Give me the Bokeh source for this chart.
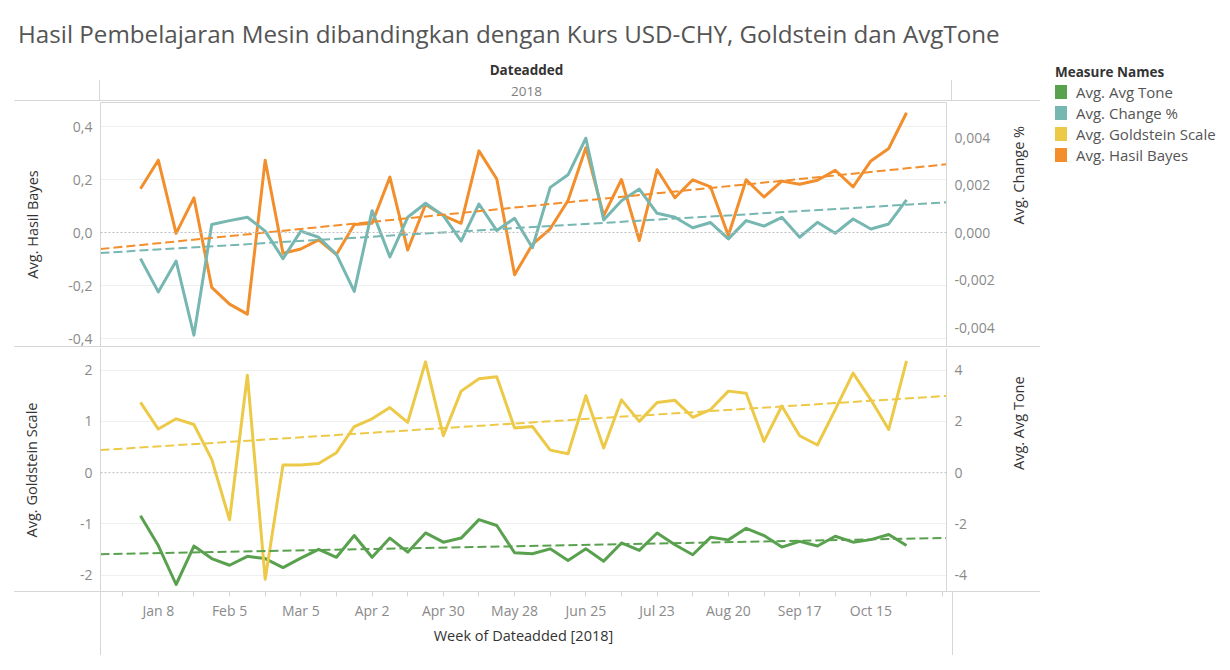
import math
import numpy as np
import pandas as pd
from bokeh.embed import file_html
from bokeh.resources import INLINE
from bokeh.layouts import column, row
from bokeh.models import (ColumnDataSource, Range1d, LinearAxis, FixedTicker, CustomJSTickFormatter,
                          Span, Div)
from bokeh.plotting import figure

FONT = "Open Sans"

# weekly averages 2018, week starting on monday
weeks = pd.date_range("2018-01-01", periods=44, freq="7D")

hasil_bayes = [0.165, 0.273, -0.003, 0.131, -0.207, -0.27, -0.308, 0.273, -0.078, -0.062, -0.028,
               -0.083, 0.03, 0.035, 0.209, -0.066, 0.106, 0.064, 0.035, 0.308, 0.202, -0.159,
               -0.045, 0.014, 0.121, 0.32, 0.064, 0.2, -0.03, 0.237, 0.131, 0.199, 0.172,
               -0.011, 0.199, 0.134, 0.194, 0.182, 0.197, 0.235, 0.172, 0.27, 0.317, 0.452]
change_pct = [-0.0011, -0.0025, -0.0012, -0.00432, 0.00034, 0.0005, 0.00064, 0.00006, -0.0011,
              0.00006, -0.0002, -0.00092, -0.00248, 0.00092, -0.00103, 0.00064, 0.00123, 0.00071,
              -0.00036, 0.0012, 0.00008, 0.0006, -0.00064, 0.0019, 0.00243, 0.00397, 0.00053,
              0.00134, 0.00183, 0.00081, 0.00064, 0.0002, 0.00042, -0.00027, 0.0005, 0.00027,
              0.00064, -0.0002, 0.00043, -0.00003, 0.00057, 0.00015, 0.00036, 0.00137]
goldstein = [1.37, 0.85, 1.05, 0.94, 0.26, -0.92, 1.90, -2.08, 0.15, 0.15, 0.18, 0.39, 0.90, 1.05,
             1.27, 0.98, 2.16, 0.72, 1.59, 1.83, 1.87, 0.87, 0.90, 0.44, 0.37, 1.50, 0.48, 1.42,
             1.00, 1.37, 1.41, 1.08, 1.23, 1.59, 1.55, 0.61, 1.30, 0.72, 0.54, 1.23, 1.94, 1.42,
             0.84, 2.18]
avg_tone = [-1.68, -2.84, -4.36, -2.86, -3.35, -3.61, -3.26, -3.35, -3.70, -3.33, -2.99, -3.30,
            -2.45, -3.30, -2.55, -3.10, -2.35, -2.71, -2.55, -1.83, -2.06, -3.12, -3.16, -2.97,
            -3.42, -2.97, -3.45, -2.74, -3.03, -2.35, -2.81, -3.20, -2.52, -2.62, -2.17, -2.45,
            -2.90, -2.68, -2.86, -2.48, -2.71, -2.61, -2.41, -2.84]

tick_labels = ["2018-01-08", "2018-02-05", "2018-03-05", "2018-04-02", "2018-04-30", "2018-05-28",
               "2018-06-25", "2018-07-23", "2018-08-20", "2018-09-17", "2018-10-15"]
minor_labels = ["2017-12-25", "2018-01-22", "2018-02-19", "2018-03-19", "2018-04-16", "2018-05-14",
                "2018-06-11", "2018-07-09", "2018-08-06", "2018-09-03", "2018-10-01", "2018-10-29",
                "2018-11-12"]

measure_names = ["Avg. Avg Tone", "Avg. Change %", "Avg. Goldstein Scale", "Avg. Hasil Bayes"]
GREEN, TEAL, YELLOW, ORANGE = "#59a14f", "#76b7b2", "#edc948", "#f28e2b"
measure_colors = [GREEN, TEAL, YELLOW, ORANGE]
LINE = "#d6d6d6"

x_lo = pd.Timestamp("2017-12-16 07:00")
x_hi = pd.Timestamp("2018-11-13 17:00")
xr = Range1d(x_lo.to_pydatetime(), x_hi.to_pydatetime())

src = ColumnDataSource(dict(week=weeks, bayes=hasil_bayes, chg=change_pct, gold=goldstein, tone=avg_tone))


def ms(d):
    return pd.Timestamp(d).value // 10**6


def trend(vals):
    # linear trend over the dates, drawn over the whole pane
    days = np.array([(w - weeks[0]).total_seconds() / 86400 for w in weeks])
    k, b = np.polyfit(days, vals, 1)
    ends = [x_lo, x_hi]
    d = np.array([(e - weeks[0]).total_seconds() / 86400 for e in ends])
    return dict(x=ends, y=list(k * d + b))


def fmt(n):
    return CustomJSTickFormatter(code="return tick.toFixed(%d).replace('.', ',')" % n)


def style_y(ax, label, standoff):
    ax.axis_label = label
    ax.axis_label_text_font = FONT
    ax.axis_label_text_font_size = "14.5px"
    ax.axis_label_text_font_style = "normal"
    ax.axis_label_text_color = "#333333"
    ax.axis_label_standoff = standoff
    ax.major_label_text_font = FONT
    ax.major_label_text_font_size = "14px"
    ax.major_label_text_color = "#8a8a8a"
    ax.major_label_standoff = 8
    ax.major_tick_line_color = None
    ax.major_tick_out = 0
    ax.major_tick_in = 0
    ax.minor_tick_line_color = None
    ax.axis_line_color = LINE


def panel(height, yr, yr2, border_bottom):
    p = figure(width=1032, height=height, x_axis_type="datetime", x_range=xr, y_range=yr,
               toolbar_location=None, output_backend="svg",
               x_axis_location="below" if border_bottom > 1 else None,
               min_border_left=92, min_border_right=87, min_border_top=1, min_border_bottom=border_bottom)
    p.extra_y_ranges = {"r": yr2}
    p.xgrid.grid_line_color = None
    p.ygrid.grid_line_color = "#efefef"
    p.background_fill_color = "white"
    p.border_fill_color = None
    p.add_layout(Span(location=0, dimension="width", line_color="#bdbdbd", line_dash="2 2", line_width=1))
    return p


def bar(x, y, w, h):
    return "linear-gradient(%s,%s) %dpx %dpx / %dpx %dpx no-repeat" % (LINE, LINE, x, y, w, h)


# top pane: Hasil Bayes (left) / Change % (right)
top = panel(246, Range1d(-0.430, 0.4906), Range1d(-0.0048, 0.005474), 1)
top.outline_line_color = LINE
top.styles = {"background": bar(6, 245, 1026, 1)}
top.yaxis.ticker = FixedTicker(ticks=[-0.4, -0.2, 0, 0.2, 0.4])
top.ygrid.ticker = FixedTicker(ticks=[-0.4, -0.2, 0.2, 0.4])
top.yaxis.formatter = fmt(1)
style_y(top.yaxis[0], "Avg. Hasil Bayes", 23)
ax_r = LinearAxis(y_range_name="r", ticker=FixedTicker(ticks=[-0.004, -0.002, 0, 0.002, 0.004]),
                  formatter=fmt(3))
style_y(ax_r, "Avg. Change %", 21)
ax_r.axis_label_orientation = math.pi / 2
top.add_layout(ax_r, "right")

top.line("week", "bayes", source=src, color=ORANGE, line_width=3, line_join="round")
top.line("week", "chg", source=src, color=TEAL, line_width=3, line_join="round", y_range_name="r")
t1 = trend(hasil_bayes)
top.line(t1["x"], t1["y"], color=ORANGE, line_width=2, line_dash="9 4")
t2 = trend(change_pct)
top.line(t2["x"], t2["y"], color=TEAL, line_width=2, line_dash="9 4", y_range_name="r")

# bottom pane: Goldstein (left) / Avg Tone (right)
bot = panel(308, Range1d(-2.317, 2.421), Range1d(-4.633, 4.843), 64)
bot.outline_line_color = None
bot.styles = {"background": ", ".join([bar(6, 244, 1026, 1), bar(92, 244, 1, 64), bar(944, 244, 1, 64)])}
bot.yaxis.ticker = FixedTicker(ticks=[-2, -1, 0, 1, 2])
bot.ygrid.ticker = FixedTicker(ticks=[-2, -1, 1, 2])
bot.yaxis.formatter = fmt(0)
style_y(bot.yaxis[0], "Avg. Goldstein Scale", 36)
ax_r2 = LinearAxis(y_range_name="r", ticker=FixedTicker(ticks=[-4, -2, 0, 2, 4]), formatter=fmt(0))
style_y(ax_r2, "Avg. Avg Tone", 48)
ax_r2.axis_label_orientation = math.pi / 2
bot.add_layout(ax_r2, "right")

xa = bot.xaxis[0]
xa.ticker = FixedTicker(ticks=[ms(d) for d in tick_labels], minor_ticks=[ms(d) for d in minor_labels])
xa.formatter = CustomJSTickFormatter(code="""
const m = ["Jan","Feb","Mar","Apr","May","Jun","Jul","Aug","Sep","Oct","Nov","Dec"];
const d = new Date(tick);
return m[d.getUTCMonth()] + " " + d.getUTCDate();
""")
xa.axis_label = "Week of Dateadded [2018]"
xa.axis_label_text_font = FONT
xa.axis_label_text_font_size = "14.5px"
xa.axis_label_text_font_style = "normal"
xa.axis_label_text_color = "#333333"
xa.axis_label_standoff = 3
xa.major_label_text_font = FONT
xa.major_label_text_font_size = "14px"
xa.major_label_text_color = "#8a8a8a"
xa.major_label_standoff = 4
xa.axis_line_color = LINE
xa.major_tick_line_color = LINE
xa.minor_tick_line_color = LINE
xa.major_tick_out = 5
xa.minor_tick_out = 5
xa.major_tick_in = 0
xa.minor_tick_in = 0

bot.line("week", "tone", source=src, color=GREEN, line_width=3, line_join="round", y_range_name="r")
bot.line("week", "gold", source=src, color=YELLOW, line_width=3, line_join="round")
t3 = trend(goldstein)
bot.line(t3["x"], t3["y"], color=YELLOW, line_width=2, line_dash="9 4")
t4 = trend(avg_tone)
bot.line(t4["x"], t4["y"], color=GREEN, line_width=2, line_dash="9 4", y_range_name="r")

# legend (measure names)
rows = ['<div style="position:absolute;left:15px;top:7px;font-size:13.5px;font-weight:bold;'
        'color:#333333;line-height:18px;white-space:nowrap">Measure Names</div>']
for i, (name, col) in enumerate(zip(measure_names, measure_colors)):
    cy = 36 + 21 * i
    rows.append('<div style="position:absolute;left:15px;top:%dpx;width:12px;height:14px;background:%s"></div>'
                % (cy - 7, col))
    rows.append('<div style="position:absolute;left:36px;top:%dpx;font-size:15px;color:#555555;'
                'line-height:18px;white-space:nowrap">%s</div>' % (cy - 9, name))
legend = Div(width=182, height=120, margin=0, text=(
    '<div style="position:relative;width:182px;height:120px;font-family:\'Open Sans\'">'
    + "".join(rows) + '</div>'))

title = Div(width=1214, height=48, margin=0, text=(
    '<div style="padding:12px 0 0 10px;font-family:\'Open Sans\';font-size:24.2px;line-height:28px;'
    'color:#555555;white-space:nowrap">'
    'Hasil Pembelajaran Mesin dibandingkan dengan Kurs USD-CHY, Goldstein dan AvgTone</div>'))

header = Div(width=1032, height=45, margin=0, text=(
    '<div style="position:relative;width:1032px;height:45px;font-family:\'Open Sans\'">'
    '<div style="position:absolute;left:92px;width:853px;top:5px;text-align:center;font-size:13.5px;'
    'font-weight:bold;color:#333333;line-height:18px">Dateadded</div>'
    '<div style="position:absolute;left:92px;width:853px;top:26px;text-align:center;font-size:13.5px;'
    'color:#808080;line-height:18px">2018</div>'
    '<div style="position:absolute;left:91px;top:24px;width:853px;height:21px;'
    'border-left:1px solid #d6d6d6;border-right:1px solid #d6d6d6"></div>'
    '<div style="position:absolute;left:6px;top:44px;width:1026px;height:1px;background:#d6d6d6"></div>'
    '</div>'))

p = column(title, row(column(header, top, bot), legend), margin=(8, 0, 0, 8))

open("out.html", "w").write(file_html(p, INLINE))
